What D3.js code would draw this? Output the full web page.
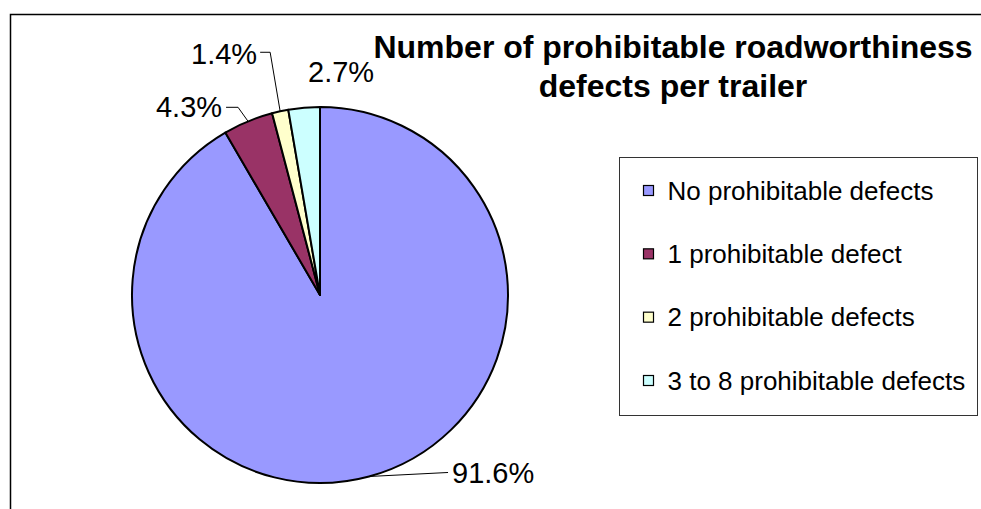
<!DOCTYPE html>
<html>
<head>
<meta charset="utf-8">
<script src="https://cdn.jsdelivr.net/npm/d3@7"></script>
<style>
  body { margin: 0; background: #fff; }
  svg { display: block; font-family: "Liberation Sans", Arial, sans-serif; }
</style>
</head>
<body>
<div id="chart"></div>
<script>
// chart data
const categories = ['No prohibitable defects', '1 prohibitable defect',
  '2 prohibitable defects', '3 to 8 prohibitable defects'];
const shares = [91.6, 4.3, 1.4, 2.7];
const colors = ['#9999ff', '#993366', '#ffffcc', '#ccffff'];
const titleLines = ['Number of prohibitable roadworthiness', 'defects per trailer'];

// label placement, offsets from the slice's rim point
const labelLayout = [
  {dx: 83, dy: 7, anchor: 'start', leader: [[79, -4]]},
  {dx: -26, dy: -4, anchor: 'end', leader: [[-10, -14], [-22, -14]]},
  {dx: -23, dy: -47, anchor: 'end', leader: [[-10, -59], [-20, -59]]},
  {dx: 37, dy: -26, anchor: 'middle', leader: null}
];

const totalWidth = 981;
const totalHeight = 509;
const cx = 320;
const cy = 295;
const radius = 188;

let svg = d3.select('#chart')
  .append('svg')
    .attr('width', totalWidth)
    .attr('height', totalHeight);

// outer frame (runs off the right and bottom)
svg.append('path')
    .attr('d', 'M10.5,' + (totalHeight + 5) + 'V14.5H' + (totalWidth + 5))
    .attr('fill', 'none')
    .attr('stroke', '#000')
    .attr('stroke-width', 1.5);

let pie = d3.pie().sort(null).value(function(d) {
  return d;
});
let arcs = pie(shares);

let arc = d3.arc().innerRadius(0).outerRadius(radius);
let rim = d3.arc().innerRadius(radius).outerRadius(radius);

let g = svg.append('g')
    .attr('transform', 'translate(' + cx + ',' + cy + ')');

g.selectAll('.slice')
  .data(arcs)
  .enter().append('path')
    .attr('class', 'slice')
    .attr('d', arc)
    .attr('fill', function(d, i) {
      return colors[i];
    })
    .attr('stroke', '#000')
    .attr('stroke-width', 2)
    .attr('stroke-linejoin', 'round');

// labels with leader lines
arcs.forEach(function(d, i) {
  let p = rim.centroid(d);
  let lay = labelLayout[i];
  if (lay.leader) {
    let pts = [p].concat(lay.leader.map(function(o) {
      return [p[0] + o[0], p[1] + o[1]];
    }));
    g.append('path')
        .attr('d', d3.line()(pts))
        .attr('fill', 'none')
        .attr('stroke', '#000')
        .attr('stroke-width', 1);
  }
  g.append('text')
      .attr('x', p[0] + lay.dx)
      .attr('y', p[1] + lay.dy)
      .attr('text-anchor', lay.anchor)
      .style('font-size', '29px')
      .text(d3.format('.1f')(d.data) + '%');
});

// title
svg.append('g')
  .selectAll('text')
  .data(titleLines)
  .enter().append('text')
    .attr('x', 673)
    .attr('y', function(d, i) {
      return 58 + i * 39;
    })
    .attr('text-anchor', 'middle')
    .style('font-size', '32px')
    .style('font-weight', 'bold')
    .text(function(d) {
      return d;
    });

// legend
let legend = svg.append('g')
    .attr('transform', 'translate(619.5,157.5)');

legend.append('rect')
    .attr('width', 358)
    .attr('height', 258)
    .attr('fill', '#fff')
    .attr('stroke', '#333')
    .attr('stroke-width', 1);

let rowY = d3.scalePoint().domain(categories).range([33, 223]);

let items = legend.selectAll('.item')
  .data(categories)
  .enter().append('g')
    .attr('class', 'item')
    .attr('transform', function(d) {
      return 'translate(24,' + rowY(d) + ')';
    });

items.append('rect')
    .attr('x', 0)
    .attr('y', -5)
    .attr('width', 10)
    .attr('height', 10)
    .attr('fill', function(d, i) {
      return colors[i];
    })
    .attr('stroke', '#000')
    .attr('stroke-width', 1.2);

items.append('text')
    .attr('x', 24)
    .attr('y', 9)
    .style('font-size', '26px')
    .text(function(d) {
      return d;
    });
</script>
</body>
</html>
